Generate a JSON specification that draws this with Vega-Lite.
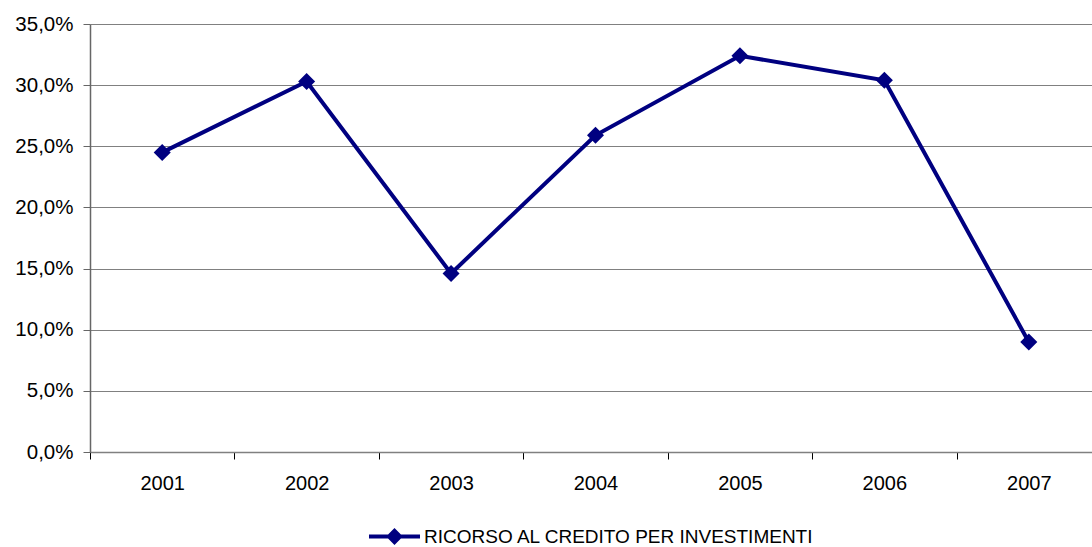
{
  "$schema": "https://vega.github.io/schema/vega-lite/v6.json",
  "autosize": {"type": "none"},
  "padding": {"left": 90, "top": 24, "right": 0, "bottom": 95},
  "width": 1002,
  "height": 428,
  "background": "#ffffff",
  "config": {
    "locale": {"number": {"decimal": ",", "thousands": ".", "grouping": [3], "currency": ["€", ""]}},
    "view": {"stroke": null},
    "font": "Liberation Sans"
  },
  "data": {
    "values": [
      {"anno": "2001", "valore": 0.245, "serie": "RICORSO AL CREDITO PER INVESTIMENTI"},
      {"anno": "2002", "valore": 0.303, "serie": "RICORSO AL CREDITO PER INVESTIMENTI"},
      {"anno": "2003", "valore": 0.146, "serie": "RICORSO AL CREDITO PER INVESTIMENTI"},
      {"anno": "2004", "valore": 0.259, "serie": "RICORSO AL CREDITO PER INVESTIMENTI"},
      {"anno": "2005", "valore": 0.324, "serie": "RICORSO AL CREDITO PER INVESTIMENTI"},
      {"anno": "2006", "valore": 0.304, "serie": "RICORSO AL CREDITO PER INVESTIMENTI"},
      {"anno": "2007", "valore": 0.090, "serie": "RICORSO AL CREDITO PER INVESTIMENTI"}
    ]
  },
  "encoding": {
    "x": {
      "field": "anno", "type": "ordinal",
      "scale": {"type": "band", "range": [0, 1011], "paddingInner": 0, "paddingOuter": 0},
      "axis": {
        "title": null, "labelAngle": 0, "labelFontSize": 20, "labelColor": "#000000",
        "labelFont": "Liberation Sans", "labelPadding": 14,
        "domainColor": "#808080", "domainWidth": 1.5,
        "tickColor": "#000000", "tickSize": 7, "tickBand": "extent", "grid": false
      }
    },
    "y": {
      "field": "valore", "type": "quantitative",
      "scale": {"domain": [0, 0.35], "nice": false, "zero": true},
      "axis": {
        "title": null, "format": ".1%", "values": [0, 0.05, 0.1, 0.15, 0.2, 0.25, 0.3, 0.35],
        "labelFontSize": 20.5, "labelColor": "#000000", "labelFont": "Liberation Sans", "labelPadding": 10,
        "domainColor": "#666666", "domainWidth": 1.5,
        "tickColor": "#666666", "tickSize": 7,
        "grid": true, "gridColor": "#808080", "gridWidth": 1
      }
    },
    "color": {
      "field": "serie", "type": "nominal",
      "scale": {"range": ["#000080"]},
      "legend": {
        "title": null, "orient": "none", "legendX": 279, "legendY": 487, "direction": "horizontal",
        "labelFontSize": 19, "labelColor": "#000000", "labelFont": "Liberation Sans", "labelLimit": 800,
        "symbolType": "M-1,-0.078L1,-0.078L1,0.078L-1,0.078Z M0,-0.33L0.33,0L0,0.33L-0.33,0Z",
        "symbolSize": 2601, "labelOffset": 4, "padding": 0,
        "encode": {"symbols": {"update": {"fill": {"value": "#000080"}, "stroke": {"value": "transparent"}, "strokeWidth": {"value": 0}, "opacity": {"value": 1}}}}
      }
    }
  },
  "layer": [
    {"mark": {"type": "line", "strokeWidth": 4, "clip": false}},
    {"mark": {"type": "point", "shape": "diamond", "filled": true, "size": 290, "opacity": 1, "clip": false}}
  ]
}
